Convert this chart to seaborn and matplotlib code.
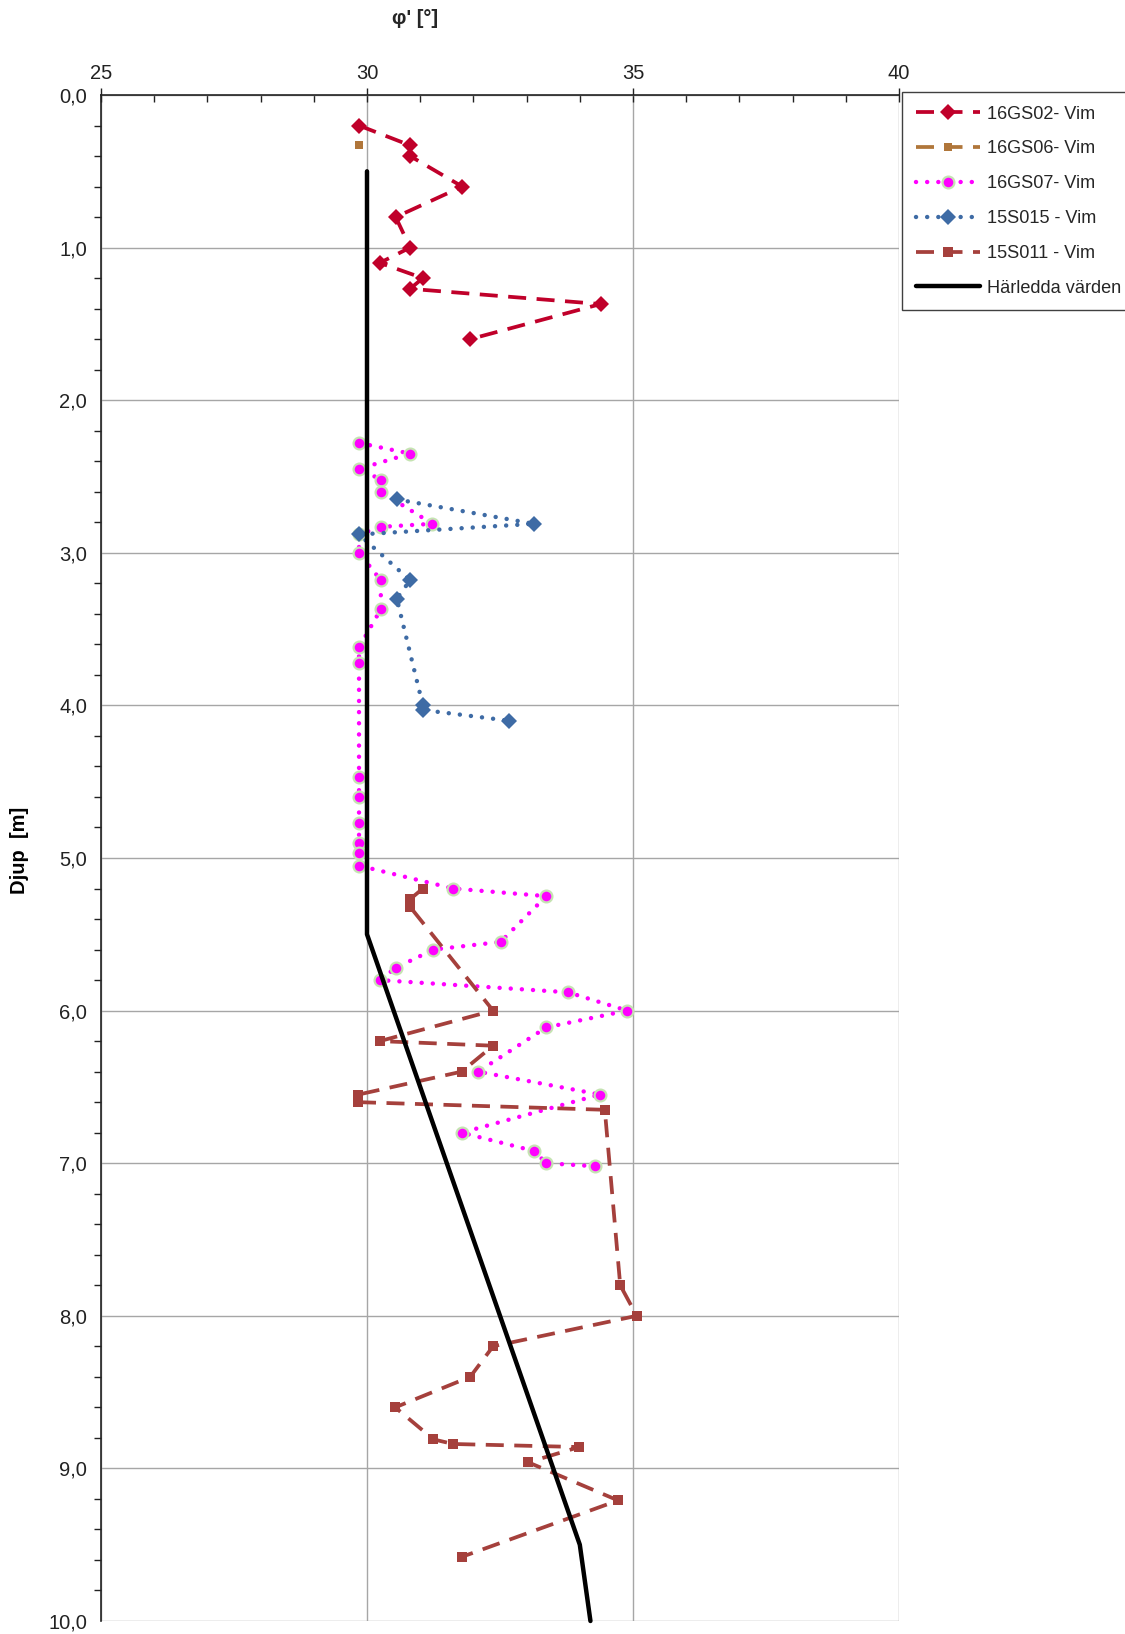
import matplotlib
matplotlib.use("Agg")
import matplotlib.pyplot as plt
from matplotlib.ticker import MultipleLocator, FuncFormatter
import pandas as pd
import seaborn as sns


sns.set_theme(style="white")
plt.rcParams["font.family"] = ["Liberation Sans", "DejaVu Sans"]

# 16GS02- Vim
gs02_phi = [29.85, 30.81, 30.81, 31.79, 30.54, 30.81, 30.24, 31.05, 30.81, 34.39, 31.94]
gs02_depth = [0.20, 0.33, 0.40, 0.60, 0.80, 1.00, 1.10, 1.20, 1.27, 1.37, 1.60]

# 16GS06- Vim
gs06_phi = [29.85]
gs06_depth = [0.33]

# 16GS07- Vim
gs07_phi = [29.85, 30.81, 29.85, 30.26, 30.26, 31.23, 30.26, 29.85, 29.85, 30.26,
            30.26, 29.85, 29.85, 29.85, 29.85, 29.85, 29.85, 29.85, 29.85, 31.62,
            33.37, 32.51, 31.25, 30.54, 30.24, 33.78, 34.89, 33.37, 32.09, 34.38,
            31.78, 33.14, 33.37, 34.29]
gs07_depth = [2.28, 2.35, 2.45, 2.52, 2.60, 2.81, 2.83, 2.88, 3.00, 3.18,
              3.37, 3.62, 3.72, 4.47, 4.60, 4.77, 4.90, 4.97, 5.05, 5.20,
              5.25, 5.55, 5.60, 5.72, 5.80, 5.88, 6.00, 6.11, 6.40, 6.55,
              6.80, 6.92, 7.00, 7.02]

# 15S015 - Vim
s015_phi = [30.56, 33.14, 29.85, 30.81, 30.56, 31.05, 31.05, 32.66]
s015_depth = [2.65, 2.81, 2.88, 3.18, 3.30, 4.00, 4.03, 4.10]

# 15S011 - Vim
s011_phi = [31.05, 30.81, 30.81, 32.37, 30.24, 32.37, 31.78, 29.84, 29.84, 34.47,
            34.76, 35.07, 32.37, 31.94, 30.53, 31.25, 31.62, 33.99, 33.03, 34.72, 31.78]
s011_depth = [5.20, 5.27, 5.32, 6.00, 6.20, 6.23, 6.40, 6.55, 6.60, 6.65,
              7.80, 8.00, 8.20, 8.40, 8.60, 8.81, 8.84, 8.86, 8.96, 9.21, 9.58]

# Härledda värden
derived_phi = [30.0, 30.0, 34.0, 34.2]
derived_depth = [0.5, 5.5, 9.5, 10.0]

x_ticks = [25, 30, 35, 40]
y_ticks = list(range(0, 11))

fig = plt.figure(figsize=(11.25, 16.34), dpi=100)
ax = fig.add_axes([101 / 1125, 1 - 1621 / 1634, 798 / 1125, 1526 / 1634])

series = [
    ("16GS02- Vim", gs02_phi, gs02_depth,
     dict(color="#C0002A", linestyle=(0, (4.8, 2.8)), linewidth=2.7,
          marker="D", markersize=8.5, markeredgewidth=0)),
    ("16GS06- Vim", gs06_phi, gs06_depth,
     dict(color="#B0763A", linestyle=(0, (4.8, 2.8)), linewidth=2.7,
          marker="s", markersize=6, markeredgewidth=0)),
    ("16GS07- Vim", gs07_phi, gs07_depth,
     dict(color="#FF00FF", linestyle=(0, (0.01, 2.5)), linewidth=3.2,
          dash_capstyle="round", marker="o", markersize=8.5,
          markeredgecolor="#C5E3B2", markeredgewidth=1.6)),
    ("15S015 - Vim", s015_phi, s015_depth,
     dict(color="#3E6BA5", linestyle=(0, (0.01, 2.5)), linewidth=3.2,
          dash_capstyle="round", marker="D", markersize=8.5, markeredgewidth=0)),
    ("15S011 - Vim", s011_phi, s011_depth,
     dict(color="#A5403C", linestyle=(0, (4.8, 2.8)), linewidth=2.7,
          marker="s", markersize=7.5, markeredgewidth=0)),
    ("Härledda värden", derived_phi, derived_depth,
     dict(color="black", linestyle="-", linewidth=3.2)),
]

for label, phi, depth, style in series:
    df = pd.DataFrame({"phi": phi, "depth": depth})
    sns.lineplot(data=df, x="phi", y="depth", sort=False, estimator=None,
                 ax=ax, label=label, clip_on=False, **style)

ax.set_xlim(25, 40)
ax.set_ylim(10, 0)
ax.xaxis.tick_top()
ax.set_xticks(x_ticks)
ax.xaxis.set_minor_locator(MultipleLocator(1))
ax.set_yticks(y_ticks)
ax.yaxis.set_minor_locator(MultipleLocator(0.2))
ax.yaxis.set_major_formatter(FuncFormatter(lambda v, _: f"{v:.1f}".replace(".", ",")))

ax.tick_params(axis="x", which="major", direction="inout", length=10, width=1,
               colors="#222222", labelsize=14.5, pad=4, top=True, bottom=False)
ax.tick_params(axis="x", which="minor", direction="in", length=5, width=1,
               colors="#222222", top=True, bottom=False)
ax.tick_params(axis="y", which="major", direction="out", length=6, width=1,
               colors="#222222", labelsize=14.5, pad=4)
ax.tick_params(axis="y", which="minor", direction="out", length=5, width=1,
               colors="#222222", left=True)

ax.grid(True, which="major", color="#A6A6A6", linewidth=1)
for side in ["right", "bottom"]:
    ax.spines[side].set_visible(False)
for side in ["left", "top"]:
    ax.spines[side].set_color("#222222")
    ax.spines[side].set_linewidth(1.2)

ax.set_xlabel("")
ax.set_ylabel("Djup  [m]", fontsize=14.5, fontweight="bold", color="black")
ax.yaxis.set_label_coords(-0.0902, 0.505)

fig.text(415 / 1125, 1 - 18 / 1634, "φ' [°]", ha="center", va="center",
         fontsize=14.5, fontweight="bold")

handles, labels = ax.get_legend_handles_labels()
leg = ax.legend(handles, labels, loc="upper left", bbox_to_anchor=(902 / 1125, 1 - 92 / 1634),
                bbox_transform=fig.transFigure, frameon=True, fancybox=False,
                edgecolor="#404040", framealpha=1, fontsize=13.1, handlelength=3.55,
                handletextpad=0.35, labelspacing=0.98, borderpad=0.75, borderaxespad=0)
leg.get_frame().set_linewidth(1)

fig.savefig("out.png", dpi=100)
plt.close(fig)
